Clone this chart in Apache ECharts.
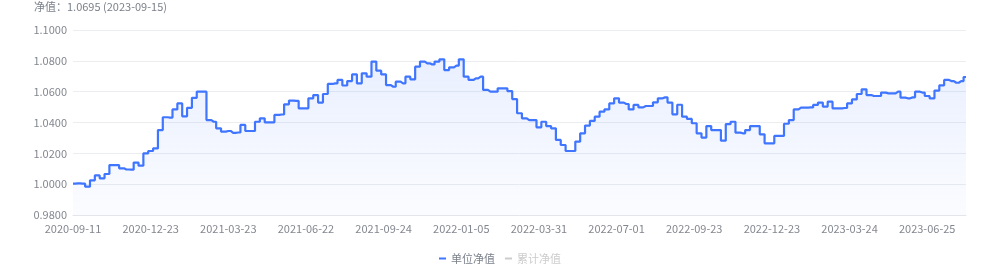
<!DOCTYPE html>
<html>
<head>
<meta charset="utf-8">
<script src="https://cdn.jsdelivr.net/npm/echarts@6/dist/echarts.min.js"></script>
<style>
html,body{margin:0;padding:0;background:#fff;}
#chart{width:1000px;height:265px;}
</style>
</head>
<body>
<div id="chart"></div>
<script>
// Tick labels shown on the category axis, plus the last date of the series
const tickLabels = ['2020-09-11','2020-12-23','2021-03-23','2021-06-22','2021-09-24','2022-01-05','2022-03-31','2022-07-01','2022-09-23','2022-12-23','2023-03-24','2023-06-25'];
const lastDate = '2023-09-15';
const latestNav = 1.0695;
const yTicks = [0.98, 1.00, 1.02, 1.04, 1.06, 1.08, 1.10];
const seriesNames = ['单位净值', '累计净值'];

// Unit NAV values
const unitNav = [
1.0003,1.0005,1.0003,0.9984,1.0025,1.0057,1.0038,1.0066,1.0124,1.0124,1.0103,1.0095,1.0094,1.0140,1.0120,1.0200,
1.0215,1.0232,1.0351,1.0434,1.0432,1.0485,1.0524,1.0440,1.0495,1.0560,1.0600,1.0600,1.0416,1.0405,1.0362,1.0341,
1.0345,1.0333,1.0335,1.0384,1.0345,1.0345,1.0405,1.0427,1.0401,1.0401,1.0449,1.0452,1.0518,1.0542,1.0540,1.0492,
1.0492,1.0557,1.0578,1.0529,1.0585,1.0650,1.0654,1.0676,1.0640,1.0669,1.0712,1.0654,1.0719,1.0697,1.0795,1.0736,
1.0712,1.0643,1.0632,1.0665,1.0654,1.0697,1.0680,1.0762,1.0795,1.0784,1.0777,1.0795,1.0810,1.0740,1.0758,1.0769,
1.0810,1.0697,1.0676,1.0686,1.0697,1.0611,1.0600,1.0600,1.0622,1.0622,1.0604,1.0552,1.0460,1.0427,1.0416,1.0416,
1.0369,1.0405,1.0377,1.0362,1.0287,1.0254,1.0215,1.0215,1.0276,1.0330,1.0380,1.0410,1.0438,1.0470,1.0485,1.0524,
1.0557,1.0529,1.0520,1.0485,1.0514,1.0498,1.0507,1.0507,1.0531,1.0557,1.0563,1.0529,1.0453,1.0515,1.0438,1.0423,
1.0395,1.0330,1.0302,1.0377,1.0351,1.0351,1.0282,1.0390,1.0405,1.0334,1.0330,1.0351,1.0377,1.0377,1.0323,1.0265,
1.0265,1.0313,1.0313,1.0392,1.0416,1.0485,1.0496,1.0496,1.0498,1.0514,1.0529,1.0503,1.0535,1.0492,1.0492,1.0494,
1.0524,1.0550,1.0585,1.0615,1.0578,1.0572,1.0572,1.0594,1.0589,1.0589,1.0600,1.0561,1.0557,1.0563,1.0600,1.0594,
1.0572,1.0557,1.0607,1.0641,1.0676,1.0669,1.0658,1.0669,1.0695
];
// Accumulated NAV (hidden in the legend); equal to unit NAV here
const accNav = unitNav.slice();

// Build category dates: 16 steps between shown ticks, remainder to last date
const STEP = 16;
function fmt(d){const p=n=>String(n).padStart(2,'0');return d.getUTCFullYear()+'-'+p(d.getUTCMonth()+1)+'-'+p(d.getUTCDate());}
function parse(s){const a=s.split('-').map(Number);return Date.UTC(a[0],a[1]-1,a[2]);}
const anchors = tickLabels.concat([lastDate]);
const categories = [];
for (let k = 0; k < anchors.length - 1; k++) {
  const a = parse(anchors[k]), b = parse(anchors[k+1]);
  const isLast = k === anchors.length - 2;
  const n = isLast ? (unitNav.length - 1 - STEP * k) : STEP;
  for (let j = 0; j < n; j++) {
    if (j === 0) { categories.push(anchors[k]); continue; }
    const t = a + Math.round((b - a) / n * j / 86400000) * 86400000;
    categories.push(fmt(new Date(t)));
  }
}
categories.push(lastDate);

const chart = echarts.init(document.getElementById('chart'), null, {renderer:'canvas'});
const font = 'Noto Sans CJK SC';
chart.setOption({
  animation: false,
  title: {
    text: '净值：' + latestNav.toFixed(4) + ' (' + lastDate + ')',
    left: 34, top: 1, padding: 0,
    textStyle: {fontSize: 11, fontWeight: 'normal', color: '#7a7f89', fontFamily: font}
  },
  legend: {
    data: seriesNames,
    selected: {'累计净值': false},
    top: 248, left: 'center',
    icon: 'rect', itemWidth: 7, itemHeight: 2, itemGap: 10,
    inactiveColor: '#cccccc',
    textStyle: {fontSize: 11, color: '#7a7f89', fontFamily: font}
  },
  grid: {left: 73, right: 34, top: 30, bottom: 50},
  xAxis: {
    type: 'category',
    data: categories,
    boundaryGap: false,
    axisLine: {lineStyle: {color: '#e3e5ea'}},
    axisTick: {show: false},
    axisLabel: {interval: STEP - 1, margin: 8, fontSize: 11, color: '#83878f', fontFamily: font}
  },
  yAxis: {
    type: 'value',
    min: yTicks[0], max: yTicks[yTicks.length-1], interval: 0.02,
    axisLine: {show: false},
    axisTick: {show: false},
    splitLine: {lineStyle: {color: '#ebedf1'}},
    axisLabel: {margin: 6, fontSize: 11, color: '#83878f', fontFamily: font, formatter: v => v.toFixed(4)}
  },
  series: [
    {
      name: seriesNames[0], type: 'line', data: unitNav,
      step: 'middle',
      showSymbol: false, symbol: 'none',
      lineStyle: {color: '#3f75ff', width: 2.2},
      itemStyle: {color: '#3f75ff'},
      areaStyle: {
        color: new echarts.graphic.LinearGradient(0,0,0,1,[
          {offset: 0, color: 'rgba(63,117,255,0.16)'},
          {offset: 1, color: 'rgba(63,117,255,0.03)'}
        ])
      }
    },
    {
      name: seriesNames[1], type: 'line', data: accNav,
      showSymbol: false, symbol: 'none',
      lineStyle: {color: '#f5a623', width: 2},
      itemStyle: {color: '#f5a623'}
    }
  ]
});
</script>
</body>
</html>
